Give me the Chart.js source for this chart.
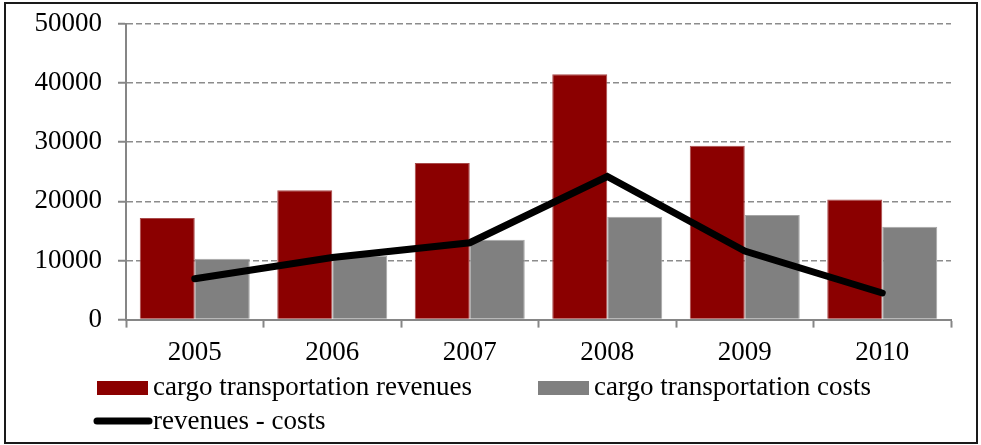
<!DOCTYPE html>
<html lang="en">
<head>
<meta charset="UTF-8">
<title>Cargo transportation</title>
<style>
  body { margin: 0; background: #fff; }
</style>
</head>
<body>
<canvas id="myChart" width="981" height="445"></canvas>
<script src="https://cdn.jsdelivr.net/npm/chart.js"></script>
<script>
var years = ['2005', '2006', '2007', '2008', '2009', '2010']
var revenues = [17200, 21900, 26500, 41500, 29400, 20300]
var costs = [10300, 10800, 13500, 17400, 17700, 15700]
var difference = [6900, 10500, 13000, 24200, 11600, 4500]
var yTicks = [0, 10000, 20000, 30000, 40000, 50000]

var serif = '"Liberation Serif", "Times New Roman", serif'
var fontSize = 27

// frame around the whole picture
var frame = {
    id: 'frame',
    beforeDraw(chart) {
        var ctx = chart.ctx
        ctx.save()
        ctx.fillStyle = '#fff'
        ctx.fillRect(0, 0, chart.width, chart.height)
        ctx.strokeStyle = '#1a1a1a'
        ctx.lineWidth = 2
        ctx.strokeRect(5, 3, chart.width - 9, chart.height - 5)
        ctx.restore()
    }
}

// legend drawn by hand: two bar items on row one, the line on row two, both left aligned
var bottomLegend = {
    id: 'bottomLegend',
    afterDraw(chart) {
        var ctx = chart.ctx
        var ds = chart.data.datasets
        var left = chart.chartArea.left - 29
        ctx.save()
        ctx.font = fontSize + 'px ' + serif
        ctx.textBaseline = 'middle'
        ctx.textAlign = 'left'

        ctx.fillStyle = ds[1].backgroundColor
        ctx.fillRect(left, 381, 51, 14)
        ctx.fillStyle = '#000'
        ctx.fillText(ds[1].label, left + 56, 388)

        ctx.fillStyle = ds[2].backgroundColor
        ctx.fillRect(left + 441, 381, 51, 14)
        ctx.fillStyle = '#000'
        ctx.fillText(ds[2].label, left + 497, 388)

        ctx.strokeStyle = ds[0].borderColor
        ctx.lineWidth = 7
        ctx.lineCap = 'round'
        ctx.beginPath()
        ctx.moveTo(left, 421)
        ctx.lineTo(left + 52, 421)
        ctx.stroke()
        ctx.fillText(ds[0].label, left + 56, 422)
        ctx.restore()
    }
}

var ctx = document.getElementById('myChart')
var myChart = new Chart(ctx, {
    type: 'bar',
    data: {
        labels: years,
        datasets: [{
            type: 'line',
            label: 'revenues - costs',
            data: difference,
            borderColor: '#000',
            backgroundColor: '#000',
            borderWidth: 7,
            borderCapStyle: 'round',
            borderJoinStyle: 'miter',
            pointRadius: 0,
            tension: 0,
            order: 0
        }, {
            label: 'cargo transportation revenues',
            data: revenues,
            backgroundColor: '#8b0000',
            borderColor: '#a84a4a',
            borderWidth: 1,
            order: 1
        }, {
            label: 'cargo transportation costs',
            data: costs,
            backgroundColor: '#808080',
            borderColor: '#a6a6a6',
            borderWidth: 1,
            order: 1
        }]
    },
    options: {
        responsive: false,
        animation: false,
        devicePixelRatio: 1,
        layout: {
            padding: { left: 0, right: 30, top: 24, bottom: 67 }
        },
        datasets: {
            bar: { categoryPercentage: 0.8, barPercentage: 1 }
        },
        plugins: {
            legend: { display: false },
            tooltip: { enabled: false }
        },
        scales: {
            x: {
                grid: {
                    offset: true,
                    drawOnChartArea: false,
                    drawTicks: true,
                    tickLength: 8,
                    tickColor: '#868686',
                    tickWidth: 2
                },
                border: { color: '#868686', width: 2 },
                ticks: {
                    color: '#000',
                    padding: 9,
                    font: { family: serif, size: fontSize }
                }
            },
            y: {
                min: 0,
                max: 50000,
                afterBuildTicks: function (scale) {
                    scale.ticks = yTicks.map(function (v) { return { value: v } })
                },
                afterFit: function (scale) {
                    scale.width = 126
                    scale.paddingTop = 0
                    scale.paddingBottom = 0
                },
                grid: {
                    color: '#8c8c8c',
                    lineWidth: 1.5,
                    tickLength: 8,
                    tickColor: '#868686',
                    tickBorderDash: [],
                    tickWidth: 2
                },
                // in v4 border.dash dashes the grid lines, the axis line stays solid
                border: { color: '#868686', width: 2, dash: [6, 3] },
                ticks: {
                    color: '#000',
                    padding: 16,
                    font: { family: serif, size: fontSize },
                    callback: function (v) { return String(v) }
                }
            }
        }
    },
    plugins: [frame, bottomLegend]
})
</script>
</body>
</html>
